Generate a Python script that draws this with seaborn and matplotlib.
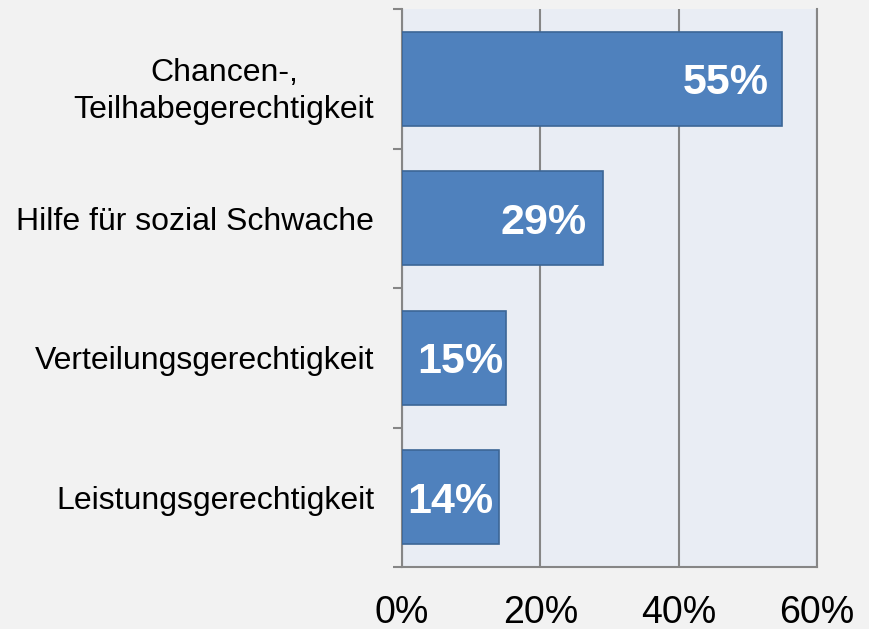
import matplotlib
matplotlib.use("Agg")
import matplotlib.pyplot as plt
import matplotlib.transforms as mtransforms
import seaborn as sns
import pandas as pd
from matplotlib.ticker import FixedLocator

categories = ["Chancen-,\nTeilhabegerechtigkeit", "Hilfe für sozial Schwache",
              "Verteilungsgerechtigkeit", "Leistungsgerechtigkeit"]
values = [55, 29, 15, 14]
x_ticks = [0, 20, 40, 60]
x_tick_labels = ["0%", "20%", "40%", "60%"]
label_offsets = [-10, -11.5, -2, -4]  # points, style only

df = pd.DataFrame({"cat": categories, "val": values})

sns.set_theme(style="white")
plt.rcParams["font.family"] = ["Liberation Sans", "DejaVu Sans"]

fig = plt.figure(figsize=(8.69, 6.29), dpi=100, facecolor="#f2f2f2")
ax = fig.add_axes([402/869, 1-567/629, (817-402)/869, (567-9)/629])
ax.set_facecolor("#e9edf4")

sns.barplot(data=df, y="cat", x="val", orient="h", color="#4f81bd",
            saturation=1, width=0.674, edgecolor="#3c6696", linewidth=1.2,
            ax=ax, zorder=3)

ax.set_xlim(0, 60)
ax.set_ylim(3.5, -0.5)
ax.set_xlabel("")
ax.set_ylabel("")

ax.set_xticks(x_ticks)
ax.set_xticklabels(x_tick_labels, fontsize=27)
ax.tick_params(axis="x", which="major", direction="out", length=7.5, width=1.5,
               color="#868686", pad=13, labelcolor="black")
ax.xaxis.grid(True, color="#868686", linewidth=1.5, zorder=0)
ax.set_axisbelow(True)

ax.set_yticks(range(len(categories)))
ax.set_yticklabels(categories, fontsize=23, multialignment="center")
ax.tick_params(axis="y", which="major", length=0, pad=20, labelcolor="black")
ax.yaxis.set_minor_locator(FixedLocator([i - 0.5 for i in range(len(categories) + 1)]))
ax.tick_params(axis="y", which="minor", direction="out", length=6.5, width=1.5,
               color="#868686", left=True)

first = ax.get_yticklabels()[0]
first.set_linespacing(1.3)
first.set_transform(first.get_transform() +
                    mtransforms.ScaledTranslation(0, -6/100, fig.dpi_scale_trans))

ax.spines["top"].set_visible(False)
for side in ["left", "bottom", "right"]:
    ax.spines[side].set_visible(True)
    ax.spines[side].set_color("#868686")
    ax.spines[side].set_linewidth(1.5)

for i, (v, off) in enumerate(zip(values, label_offsets)):
    ax.annotate(f"{v}%", xy=(v, i), xytext=(off, 0), textcoords="offset points",
                ha="right", va="center_baseline", fontsize=31, fontweight="bold",
                color="white", zorder=5)

fig.savefig("out.png", dpi=100, facecolor=fig.get_facecolor())
